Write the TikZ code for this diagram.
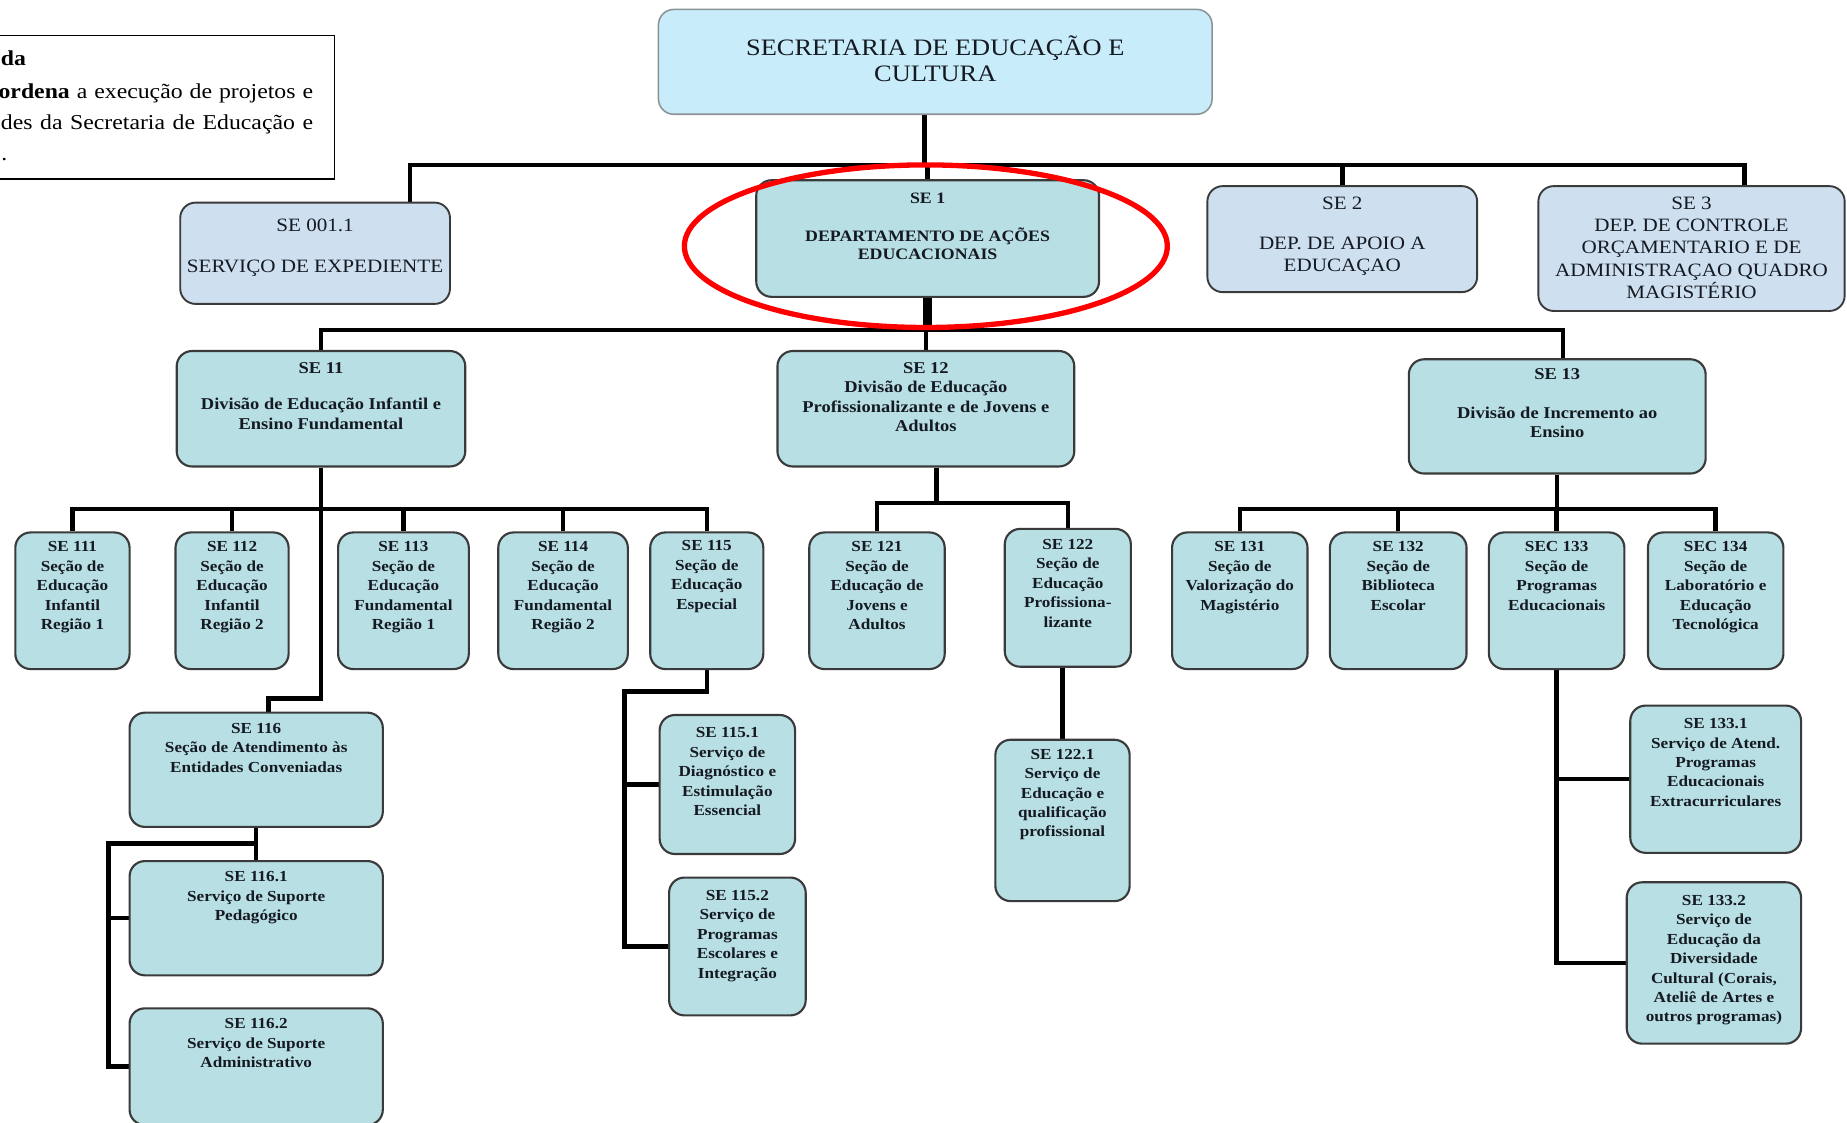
\documentclass[tikz,border=0pt]{standalone}
\usepackage{fontspec}
\setmainfont{Liberation Serif}[FakeStretch=1.12]
\usetikzlibrary{calc}
\pgfdeclarelayer{bg}
\pgfsetlayers{bg,main}

\definecolor{titlefill}{HTML}{C8ECF9}
\definecolor{titleline}{HTML}{8A9296}
\definecolor{deptfill}{HTML}{CEE0F0}
\definecolor{unitfill}{HTML}{B8DFE3}
\definecolor{boxline}{HTML}{3A3A3A}
\definecolor{inktext}{HTML}{151A22}

\tikzset{
  orgshape/.style={draw, rounded corners=13pt, inner sep=0pt},
  titlebox/.style={orgshape, fill=titlefill, draw=titleline, line width=1.3pt},
  deptbox/.style={orgshape, fill=deptfill, draw=boxline, line width=1.6pt},
  se1box/.style={orgshape, fill=unitfill, draw=boxline, line width=1.8pt},
  divbox/.style={se1box},
  unitbox/.style={se1box},
  textbase/.style={inner sep=0pt, align=center, text=inktext},
  titletext/.style={textbase, font=\fontsize{20}{22}\selectfont},
  depttext/.style={textbase, font=\fontsize{16}{19}\selectfont},
  se1text/.style={textbase, font=\fontsize{13.5}{16}\selectfont\bfseries},
  divtext/.style={textbase, font=\fontsize{14}{16.5}\selectfont\bfseries},
  unittext/.style={textbase, font=\fontsize{13}{16.5}\selectfont\bfseries},
  legendtext/.style={inner sep=0pt, font=\fontsize{18}{26}\selectfont},
  conn/.style={line width=3.8pt, black, line join=miter},
  highlight/.style={draw=red, line width=4.5pt}
}

% #1 kind, #2 name, #3 x1, #4 y1, #5 x2, #6 y2, #7 top of text, #8 text
\newcommand\orgbox[8]{%
  \node[#1box, minimum width={#5-#3}, minimum height={#6-#4}] (#2) at ({(#3+#5)/2},{(#4+#6)/2}) {};
  \node[#1text, anchor=north] (#2-text) at ({(#3+#5)/2},#7) {#8};
}

\begin{document}
\begin{tikzpicture}[x=1pt, y=-1pt]
\useasboundingbox (0,0) rectangle (1568,953);
\clip (0,0) rectangle (1568,953);

% legend box at the upper left (justified lines)
\node[draw, line width=1.1pt, minimum width=300, minimum height=122, inner sep=0pt] (legend) at (134,91) {};
\node[legendtext, anchor=base west, font=\fontsize{18}{26}\selectfont\bfseries] (legend-l1) at (0.5,56) {da};
\node[legendtext, anchor=base east] (legend-l2) at (266,84) {\makebox[267pt][s]{\textbf{ordena} a execução de projetos e}};
\node[legendtext, anchor=base east] (legend-l3) at (266,110) {\makebox[265pt][s]{des da Secretaria de Educação e}};
\node[legendtext, anchor=base west] (legend-l4) at (1,136) {.};

% top level
\orgbox{title}{sec}{559}{8}{1029}{97}{30.5}{SECRETARIA DE EDUCAÇÃO E\\CULTURA}

% departments
\orgbox{dept}{se0011}{153}{172}{382}{258}{185.7}{SE 001.1\\[16pt]SERVIÇO DE EXPEDIENTE}
\orgbox{se1}{se1}{642}{153}{933}{252}{163.5}{SE 1\\[16pt]DEPARTAMENTO DE AÇÕES\\EDUCACIONAIS}
\orgbox{dept}{se2}{1025}{158}{1254}{248}{166.7}{SE 2\\[15pt]DEP. DE APOIO A\\EDUCAÇAO}
\orgbox{dept}{se3}{1306}{158}{1566}{264}{166.7}{SE 3\\DEP. DE CONTROLE\\ORÇAMENTARIO E DE\\ADMINISTRAÇAO QUADRO\\MAGISTÉRIO}

% divisions
\orgbox{div}{se11}{150}{298}{395}{396}{307.4}{SE 11\\[14.5pt]Divisão de Educação Infantil e\\Ensino Fundamental}
\orgbox{div}{se12}{660}{298}{912}{396}{307.4}{SE 12\\Divisão de Educação\\Profissionalizante e de Jovens e\\Adultos}
\orgbox{div}{se13}{1196}{305}{1448}{402}{312.4}{SE 13\\[16.5pt]Divisão de Incremento ao\\Ensino}

% sections
\orgbox{unit}{se111}{13}{452}{110}{568}{459.7}{SE 111\\Seção de\\Educação\\Infantil\\Região 1}
\orgbox{unit}{se112}{149}{452}{245}{568}{459.7}{SE 112\\Seção de\\Educação\\Infantil\\Região 2}
\orgbox{unit}{se113}{287}{452}{398}{568}{459.7}{SE 113\\Seção de\\Educação\\Fundamental\\Região 1}
\orgbox{unit}{se114}{423}{452}{533}{568}{459.7}{SE 114\\Seção de\\Educação\\Fundamental\\Região 2}
\orgbox{unit}{se115}{552}{452}{648}{568}{458.7}{SE 115\\Seção de\\Educação\\Especial}
\orgbox{unit}{se121}{687}{452}{802}{568}{459.7}{SE 121\\Seção de\\Educação de\\Jovens e\\Adultos}
\orgbox{unit}{se122}{853}{449}{960}{566}{457.7}{SE 122\\Seção de\\Educação\\Profissiona-\\lizante}
\orgbox{unit}{se131}{995}{452}{1110}{568}{459.7}{SE 131\\Seção de\\Valorização do\\Magistério}
\orgbox{unit}{se132}{1129}{452}{1245}{568}{459.7}{SE 132\\Seção de\\Biblioteca\\Escolar}
\orgbox{unit}{se133}{1264}{452}{1379}{568}{459.7}{SEC 133\\Seção de\\Programas\\Educacionais}
\orgbox{unit}{se134}{1399}{452}{1514}{568}{459.7}{SEC 134\\Seção de\\Laboratório e\\Educação\\Tecnológica}

% services
\orgbox{unit}{se116}{110}{605}{325}{702}{613.7}{SE 116\\Seção de Atendimento às\\Entidades Conveniadas}
\orgbox{unit}{se1161}{110}{731}{325}{828}{739.7}{SE 116.1\\Serviço de Suporte\\Pedagógico}
\orgbox{unit}{se1162}{110}{856}{325}{955}{864.7}{SE 116.2\\Serviço de Suporte\\Administrativo}
\orgbox{unit}{se1151}{560}{607}{675}{725}{617.7}{SE 115.1\\Serviço de\\Diagnóstico e\\Estimulação\\Essencial}
\orgbox{unit}{se1152}{568}{745}{684}{862}{755.7}{SE 115.2\\Serviço de\\Programas\\Escolares e\\Integração}
\orgbox{unit}{se1221}{845}{628}{959}{765}{635.7}{SE 122.1\\Serviço de\\Educação e\\qualificação\\profissional}
\orgbox{unit}{se1331}{1384}{599}{1529}{724}{609.7}{SE 133.1\\Serviço de Atend.\\Programas\\Educacionais\\Extracurriculares}
\orgbox{unit}{se1332}{1381}{749}{1529}{886}{759.7}{SE 133.2\\Serviço de\\Educação da\\Diversidade\\Cultural (Corais,\\Ateliê de Artes e\\outros programas)}

% junction points of the connector buses
\coordinate (busAw) at (348,140);
\coordinate (busAe) at (1481,140);
\coordinate (busB) at (0,280);
\coordinate (busBe) at (1327,280);
\coordinate (busC) at (0,432);
\coordinate (k116) at (228,593);
\coordinate (k116b) at (92,716);
\coordinate (k115) at (530,587);
\coordinate (k12) at (795,427);

\begin{pgfonlayer}{bg}
  % secretary to departments
  \draw[conn] (sec.south -| 785,0) -- (busAw -| 785,0);
  \draw[conn] (se0011.north -| busAw) -- (busAw) -- (busAe) -- (se3.north -| busAe);
  \draw[conn] (se1.north) -- (se1.north |- busAw);
  \draw[conn] (se2.north) -- (se2.north |- busAw);
  % department SE 1 to divisions
  \draw[conn, line width=7.5pt] (se1.south) -- (se1.south |- busB);
  \draw[conn] (se11.north) |- (busBe) -- (se13.north -| busBe);
  \draw[conn] (se12.north) -- (se12.north |- busB);
  % division SE 11
  \draw[conn] (se111.north) |- (se115.north |- busC) -- (se115.north);
  \draw[conn] (se112.north) -- (se112.north |- busC);
  \draw[conn] (se113.north) -- (se113.north |- busC);
  \draw[conn] (se114.north) -- (se114.north |- busC);
  \draw[conn] (se11.south) |- (k116) -- (se116.north -| k116);
  % section SE 116
  \draw[conn] (se116.south) -- (se1161.north);
  \draw[conn] (se116.south |- k116b) -- (k116b) |- (se1162.west);
  \draw[conn] (k116b |- se1161.west) -- (se1161.west);
  % section SE 115
  \draw[conn] (se115.south) |- (k115) |- (se1152.west);
  \draw[conn] (k115 |- se1151.west) -- (se1151.west);
  % division SE 12
  \draw[conn] (se12.south -| k12) -- (k12);
  \draw[conn] (se121.north) |- (se122.north |- k12) -- (se122.north);
  \draw[conn] (se122.south -| se1221.north) -- (se1221.north);
  % division SE 13
  \draw[conn] (se13.south) -- (se13.south |- busC);
  \draw[conn] (se131.north) |- (se134.north |- busC) -- (se134.north);
  \draw[conn] (se132.north) -- (se132.north |- busC);
  \draw[conn] (se133.north) -- (se133.north |- busC);
  % section SEC 133
  \draw[conn] (se133.south) |- (se1332.west);
  \draw[conn] (se133.south |- se1331.west) -- (se1331.west);
\end{pgfonlayer}

% red ring around department SE 1
\draw[highlight] (786,209) ellipse [x radius=205, y radius=69];
\end{tikzpicture}
\end{document}
